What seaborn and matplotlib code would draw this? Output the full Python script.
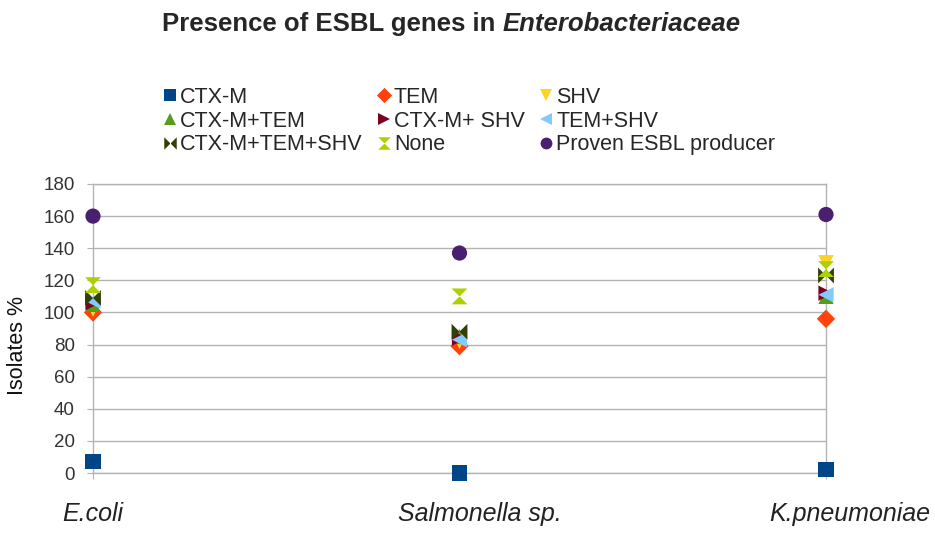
import matplotlib
matplotlib.use("Agg")
import matplotlib.pyplot as plt
import matplotlib.transforms as mtransforms
from matplotlib.lines import Line2D
import pandas as pd
import seaborn as sns

# ---data---
species = ["E.coli", "Salmonella sp.", "K.pneumoniae"]
genes = ["CTX-M", "TEM", "SHV", "CTX-M+TEM", "CTX-M+ SHV", "TEM+SHV",
         "CTX-M+TEM+SHV", "None", "Proven ESBL producer"]

ctx_m = [7, 0, 2]
tem = [100, 79, 96]
shv = [102, 82, 131]
ctx_m_tem = [105, 85, 110]
ctx_m_shv = [106, 84, 112]
tem_shv = [107, 83, 111]
ctx_m_tem_shv = [109, 88, 123]
none = [117, 110, 127]
proven = [160, 137, 161]

values = [ctx_m, tem, shv, ctx_m_tem, ctx_m_shv, tem_shv, ctx_m_tem_shv, none, proven]

# libreoffice default palette
colors = ["#004586", "#ff420e", "#ffd320", "#579d1c", "#7e0021",
          "#83caff", "#314004", "#aecf00", "#4b1f6f"]
diamond = [(0, 1), (1, 0), (0, -1), (-1, 0)]
bowtie = [(-1, -1), (-1, 1), (1, -1), (1, 1)]
hourglass = [(-1, 1), (1, 1), (-1, -1), (1, -1)]
markers = ["s", diamond, "v", "^", ">", "<", bowtie, hourglass, "o"]
# the diamond is drawn a bit larger so it looks as big as the others
marker_area = [120, 175, 120, 120, 120, 120, 130, 130, 120]

rows = []
for g, vals in zip(genes, values):
    for sp, v in zip(species, vals):
        rows.append({"species": sp, "gene": g, "pct": v})
df = pd.DataFrame(rows)

sns.set_style("white")
plt.rcParams["font.family"] = ["Liberation Sans", "DejaVu Sans"]

fig = plt.figure(figsize=(9.35, 5.52), dpi=100)
ax = fig.add_axes([93 / 935, 1 - 473 / 552, 733 / 935, 289 / 552])

sns.scatterplot(data=df, x="species", y="pct", hue="gene", style="gene",
                size="gene", sizes=dict(zip(genes, marker_area)),
                hue_order=genes, style_order=genes, size_order=genes,
                palette=dict(zip(genes, colors)),
                markers=dict(zip(genes, markers)),
                linewidth=0, legend=False, ax=ax, zorder=3,
                clip_on=False)

ax.set_xlim(0, 2)
ax.set_ylim(0, 180)
ax.set_yticks(range(0, 181, 20))
ax.grid(axis="y", color="#b3b3b3", linewidth=1)
ax.grid(axis="x", visible=False)
for s in ax.spines.values():
    s.set_color("#b3b3b3")
    s.set_linewidth(1)
    s.set_visible(True)

ax.tick_params(axis="y", length=4, color="#b3b3b3", pad=9, labelsize=13.5,
               labelcolor="#333333", left=True)
ax.tick_params(axis="x", length=4, color="#b3b3b3", pad=17, labelsize=18,
               labelcolor="#222222", bottom=True)
# the category labels sit a bit right of their ticks in the original
shifts = [0, 20, 24]
for lbl, dx in zip(ax.get_xticklabels(), shifts):
    lbl.set_style("italic")
    lbl.set_transform(lbl.get_transform() +
                      mtransforms.ScaledTranslation(dx / 100, 0, fig.dpi_scale_trans))

ax.set_xlabel("")
ax.set_ylabel("Isolates %", fontsize=15.5, color="#111111")
ax.yaxis.set_label_coords(-0.088, 0.44)

# title: bold text then bold italic species name
t1 = fig.text(162 / 935, 1 - 31 / 552, "Presence of ESBL genes in ",
              fontsize=18.5, fontweight="bold", ha="left", va="baseline")
ax.annotate("Enterobacteriaceae", xy=(1, 0), xycoords=t1,
            fontsize=18.5, fontweight="bold", style="italic",
            ha="left", va="bottom")

# legend, 3 columns filled row by row
legend_size = [8.5, 11, 8.5, 8.5, 8.5, 8.5, 9, 9, 8.5]
handles = [Line2D([], [], marker=m, color=c, linestyle="None", markersize=ms,
                  markeredgewidth=0)
           for m, c, ms in zip(markers, colors, legend_size)]
order = [0, 3, 6, 1, 4, 7, 2, 5, 8]
fig.legend([handles[i] for i in order], [genes[i] for i in order],
           ncol=3, loc="upper left", bbox_to_anchor=(164 / 935, 1 - 87 / 552),
           frameon=False, fontsize=15.5, handlelength=0.6, handletextpad=0.15,
           columnspacing=0.7, labelspacing=0.12, borderpad=0, borderaxespad=0)

fig.savefig("out.png", dpi=100)
